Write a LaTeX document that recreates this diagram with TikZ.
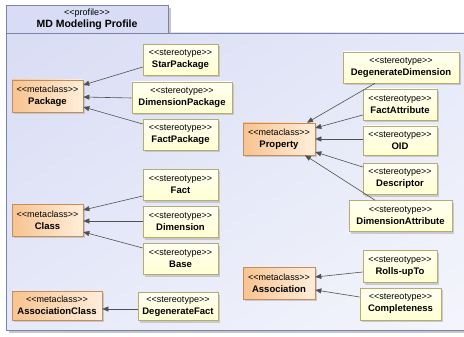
\documentclass[tikz,border=0pt]{standalone}
\usepackage{fontspec}
\newfontfamily\umlfont{Liberation Sans}
\usetikzlibrary{arrows.meta,shadows,shadings}
\definecolor{framec}{HTML}{7A82A8}
\definecolor{tabc}{HTML}{D8DCF4}
\definecolor{bgA}{HTML}{D9DDF4}
\definecolor{bgB}{HTML}{F4F5FC}
\definecolor{bgC}{HTML}{E6E9F8}
\definecolor{metaA}{HTML}{F8C390}
\definecolor{metaB}{HTML}{FFEEDA}
\definecolor{metaD}{HTML}{C38D5C}
\definecolor{stA}{HTML}{FFFFD2}
\definecolor{stB}{HTML}{FFFFF2}
\definecolor{stD}{HTML}{B4AC70}
\definecolor{linec}{HTML}{505050}
\newcommand\mkst[2]{{\fontsize{9}{12}\selectfont<<#1>>}\\{\fontsize{9.5}{12}\selectfont\bfseries #2}}
\tikzset{
  umlshadow/.style={drop shadow={shadow xshift=2pt,shadow yshift=-2pt,fill=black!30,opacity=0.6}},
  meta/.style={draw=metaD,line width=0.6pt,left color=metaA,right color=metaB,umlshadow,
    minimum height=31pt,inner sep=0pt,align=center},
  stereo/.style={draw=stD,line width=0.6pt,top color=stB,bottom color=stA,umlshadow,
    minimum height=31pt,inner sep=0pt,align=center},
  ext/.style={draw=linec,line width=0.6pt,-{Triangle[length=6pt,width=5pt]}},
}
\begin{document}
\begin{tikzpicture}[x=1pt,y=-1pt,font=\umlfont]
\useasboundingbox (0,0) rectangle (464,337);
\fill[white] (0,0) rectangle (464,337);
% package frame
\fill[black!22] (9,36) rectangle (472,333);
\shade[upper left=bgA,upper right=bgC,lower left=bgC,lower right=bgB] (6,33) rectangle (472,330);
\draw[framec,line width=0.8pt] (472,330) -- (6,330) -- (6,33) -- (472,33);
\fill[black!22] (168,8) rectangle (171,33);
\node[draw=framec,line width=0.8pt,fill=tabc,minimum width=162pt,minimum height=28pt,inner sep=0pt,align=center]
  (profile) at (87,19) {{\fontsize{9}{12}\selectfont<<profile>>}\\{\fontsize{10.5}{13}\selectfont\bfseries MD Modeling Profile}};

% metaclasses
\node[meta,minimum width=71pt,minimum height=32pt] (package) at (47.5,96) {\mkst{metaclass}{Package}};
\node[meta,minimum width=71pt,minimum height=32pt] (class) at (47.5,220) {\mkst{metaclass}{Class}};
\node[meta,minimum width=90pt,minimum height=29pt] (assocclass) at (57,305.5) {\mkst{metaclass}{AssociationClass}};
\node[meta,minimum width=72pt,minimum height=32pt] (property) at (279,139) {\mkst{metaclass}{Property}};
\node[meta,minimum width=72pt,minimum height=32pt] (association) at (279,283) {\mkst{metaclass}{Association}};

% stereotypes
\node[stereo,minimum width=75pt] (starpkg) at (180.5,60) {\mkst{stereotype}{StarPackage}};
\node[stereo,minimum width=100pt] (dimpkg) at (182,97.5) {\mkst{stereotype}{DimensionPackage}};
\node[stereo,minimum width=75pt] (factpkg) at (180.5,135) {\mkst{stereotype}{FactPackage}};
\node[stereo,minimum width=75pt] (fact) at (180.5,185) {\mkst{stereotype}{Fact}};
\node[stereo,minimum width=75pt] (dimension) at (180.5,222) {\mkst{stereotype}{Dimension}};
\node[stereo,minimum width=75pt] (base) at (180.5,259) {\mkst{stereotype}{Base}};
\node[stereo,minimum width=80pt,minimum height=28pt] (degfact) at (178,306.5) {\mkst{stereotype}{DegenerateFact}};
\node[stereo,minimum width=116pt] (degdim) at (401,67.5) {\mkst{stereotype}{DegenerateDimension}};
\node[stereo,minimum width=74pt] (factattr) at (400,104.5) {\mkst{stereotype}{FactAttribute}};
\node[stereo,minimum width=74pt,minimum height=29pt] (oid) at (400,140.5) {\mkst{stereotype}{OID}};
\node[stereo,minimum width=74pt] (descriptor) at (400,179) {\mkst{stereotype}{Descriptor}};
\node[stereo,minimum width=103pt] (dimattr) at (400.5,216) {\mkst{stereotype}{DimensionAttribute}};
\node[stereo,minimum width=74pt,minimum height=32pt] (rollsup) at (400,266.5) {\mkst{stereotype}{Rolls-upTo}};
\node[stereo,minimum width=81pt,minimum height=32pt] (complete) at (400.5,304) {\mkst{stereotype}{Completeness}};

% extensions
\draw[ext] ([yshift=-7pt]starpkg.west) -- ([yshift=11pt]package.east);
\draw[ext] ([yshift=-0.5pt]dimpkg.west) -- ([yshift=-1pt]package.east);
\draw[ext] ([yshift=11pt]factpkg.west) -- ([yshift=-11pt]package.east);

\draw[ext] ([yshift=-11pt]fact.west) -- ([yshift=10pt]class.east);
\draw[ext] ([yshift=1pt]dimension.west) -- ([yshift=-1pt]class.east);
\draw[ext] ([yshift=11pt]base.west) -- ([yshift=-12pt]class.east);

\draw[ext] ([yshift=-2.5pt]degfact.west) -- ([yshift=-3.5pt]assocclass.east);

\draw[ext] ([xshift=-26pt]degdim.south) -- ([xshift=28pt]property.north);
\draw[ext] ([yshift=-10.5pt]factattr.west) -- ([yshift=11pt]property.east);
\draw[ext] ([yshift=1.5pt]oid.west) -- (property.east);
\draw[ext] ([yshift=12pt]descriptor.west) -- ([yshift=-13pt]property.east);
\draw[ext] ([xshift=-25.5pt]dimattr.north) -- ([xshift=26pt]property.south);

\draw[ext] ([yshift=-5.5pt]rollsup.west) -- ([yshift=6pt]association.east);
\draw[ext] ([yshift=7pt]complete.west) -- ([yshift=-7pt]association.east);
\end{tikzpicture}
\end{document}
